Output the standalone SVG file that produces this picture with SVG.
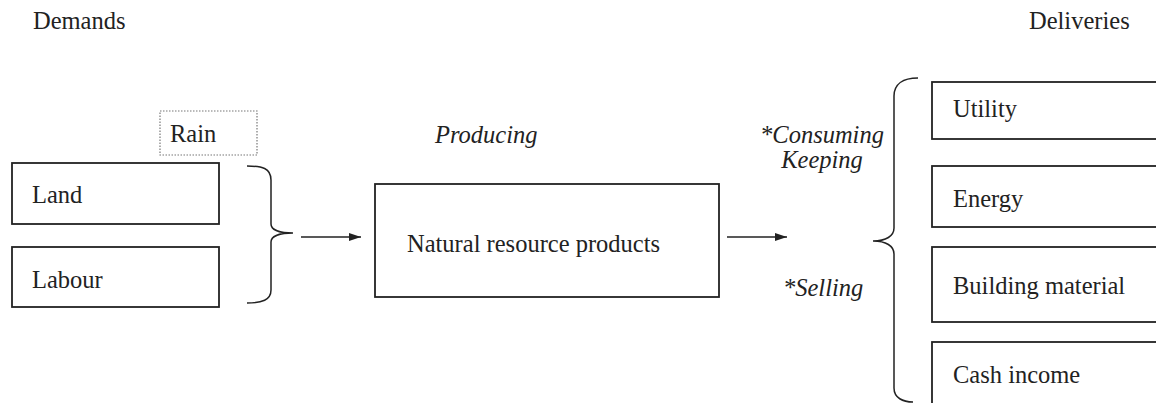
<svg xmlns="http://www.w3.org/2000/svg" width="1156" height="403" viewBox="0 0 1156 403">
<defs>
<style>
.t{font-family:"Liberation Serif","Times New Roman",serif;font-size:24.5px;fill:#222}
.i{font-style:italic}
.box{fill:#fff;stroke:#222;stroke-width:1.8}
.rain{fill:#fff;stroke:#777;stroke-width:1.2;stroke-dasharray:1.5 1.5}
.conn{fill:none;stroke:#222;stroke-width:1.5}
</style>
<marker id="ah" viewBox="0 0 12 8" refX="12" refY="4" markerWidth="12" markerHeight="8" markerUnits="userSpaceOnUse" orient="auto">
<path d="M0,0 L12,4 L0,8 Z" fill="#222"/>
</marker>
</defs>
<rect width="1156" height="403" fill="#fff"/>
<text class="t" x="33" y="29">Demands</text>
<text class="t" x="1029" y="29">Deliveries</text>
<g id="rain"><rect class="rain" x="160" y="111" width="97" height="44"/><text class="t" x="170" y="142">Rain</text></g>
<g id="land"><rect class="box" x="12" y="163" width="207" height="61"/><text class="t" x="32" y="203">Land</text></g>
<g id="labour"><rect class="box" x="12" y="247" width="207" height="60"/><text class="t" x="32" y="288">Labour</text></g>
<g id="products"><rect class="box" x="375" y="184" width="344" height="113"/><text class="t" x="407" y="252">Natural resource products</text></g>
<g id="utility"><rect class="box" x="932" y="82" width="240" height="57"/><text class="t" x="953" y="117">Utility</text></g>
<g id="energy"><rect class="box" x="932" y="166" width="240" height="61"/><text class="t" x="953" y="207">Energy</text></g>
<g id="building"><rect class="box" x="932" y="247" width="240" height="75"/><text class="t" x="953" y="294">Building material</text></g>
<g id="cash"><rect class="box" x="932" y="342" width="240" height="70"/><text class="t" x="953" y="383">Cash income</text></g>
<g id="labels">
<text class="t i" x="435" y="143">Producing</text>
<text class="t i" x="822" y="143" text-anchor="middle">*Consuming</text>
<text class="t i" x="822" y="168" text-anchor="middle">Keeping</text>
<text class="t i" x="783" y="296">*Selling</text>
</g>
<g id="connectors">
<path class="conn" d="M247,166 C262,166 271,168 271,180 L271,224 C271,230 280,233 293,233 C280,233 271,236 271,242 L271,290 C271,300 262,303 247,303"/>
<path class="conn" d="M918,78 C903,78 894,84 894,96 L894,228 C894,236 886,241 873,241 C886,241 894,246 894,254 L894,388 C894,398 903,402 913,402"/>
<line class="conn" x1="301" y1="237" x2="361" y2="237" marker-end="url(#ah)"/>
<line class="conn" x1="727" y1="237" x2="787" y2="237" marker-end="url(#ah)"/>
</g>
</svg>
